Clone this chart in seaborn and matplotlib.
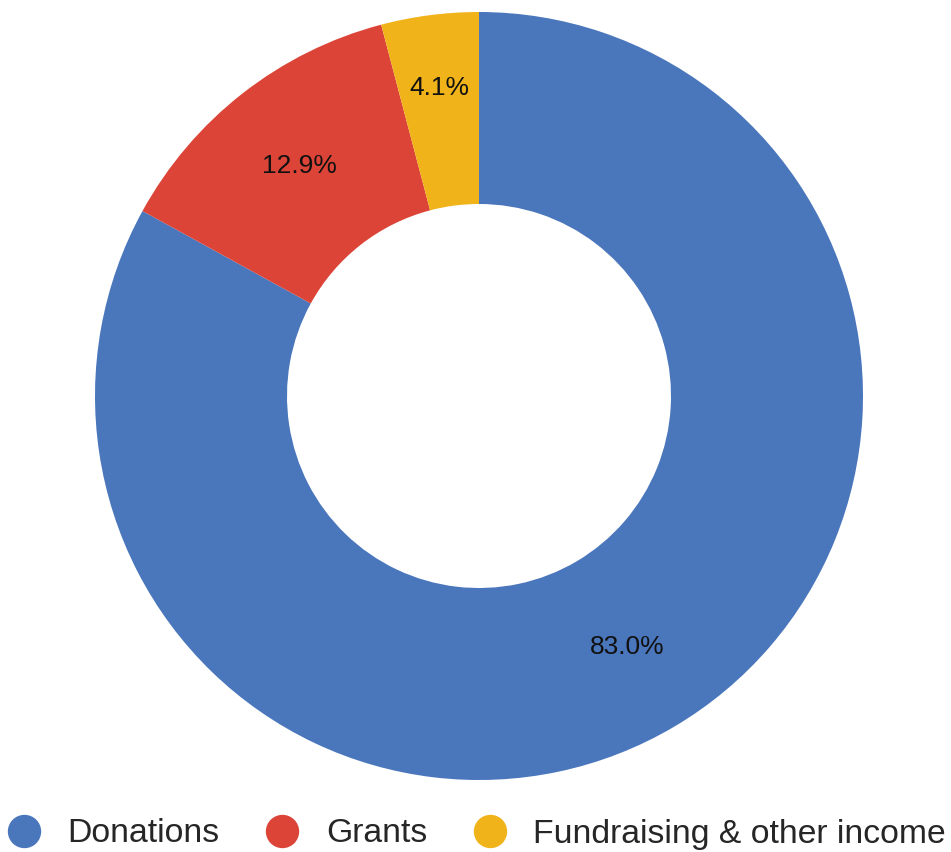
import matplotlib
matplotlib.use('Agg')
import matplotlib.pyplot as plt
import seaborn as sns
import numpy as np
from matplotlib.lines import Line2D

sns.set_style('white')
plt.rcParams['font.family'] = ['Liberation Sans', 'DejaVu Sans']

categories = ['Donations', 'Grants', 'Fundraising & other income']
shares = [83.0, 12.9, 4.1]
colors = ['#4a76bc', '#db4437', '#f0b41a']

fig = plt.figure(figsize=(9.51, 8.52), dpi=100)
ax = fig.add_axes([95 / 951, 1 - 780 / 852, 768 / 951, 768 / 852])

wedges, texts, autotexts = ax.pie(
    shares, colors=colors, startangle=90, counterclock=False, radius=1.0,
    autopct='%.1f%%', pctdistance=0.76,
    wedgeprops=dict(width=0.5, linewidth=0),
    textprops=dict(fontsize=19, color='#111111'))

# small slice: label sits further out in the ring
w = wedges[2]
mid = np.deg2rad((w.theta1 + w.theta2) / 2)
autotexts[2].set_position((0.81 * np.cos(mid), 0.81 * np.sin(mid)))

ax.set_xlim(-1, 1)
ax.set_ylim(-1, 1)
ax.set_aspect('equal')
ax.axis('off')

handles = [Line2D([0], [0], marker='o', linestyle='none', markersize=23,
                  markerfacecolor=c, markeredgecolor=c) for c in colors]
fig.legend(handles, categories, loc='center', bbox_to_anchor=(0.5, 1 - 834 / 852),
           ncol=3, frameon=False, fontsize=24.3, handletextpad=0.75,
           columnspacing=1.3, handlelength=1.1, borderaxespad=0)

fig.savefig('out.png', dpi=100, facecolor='white')
